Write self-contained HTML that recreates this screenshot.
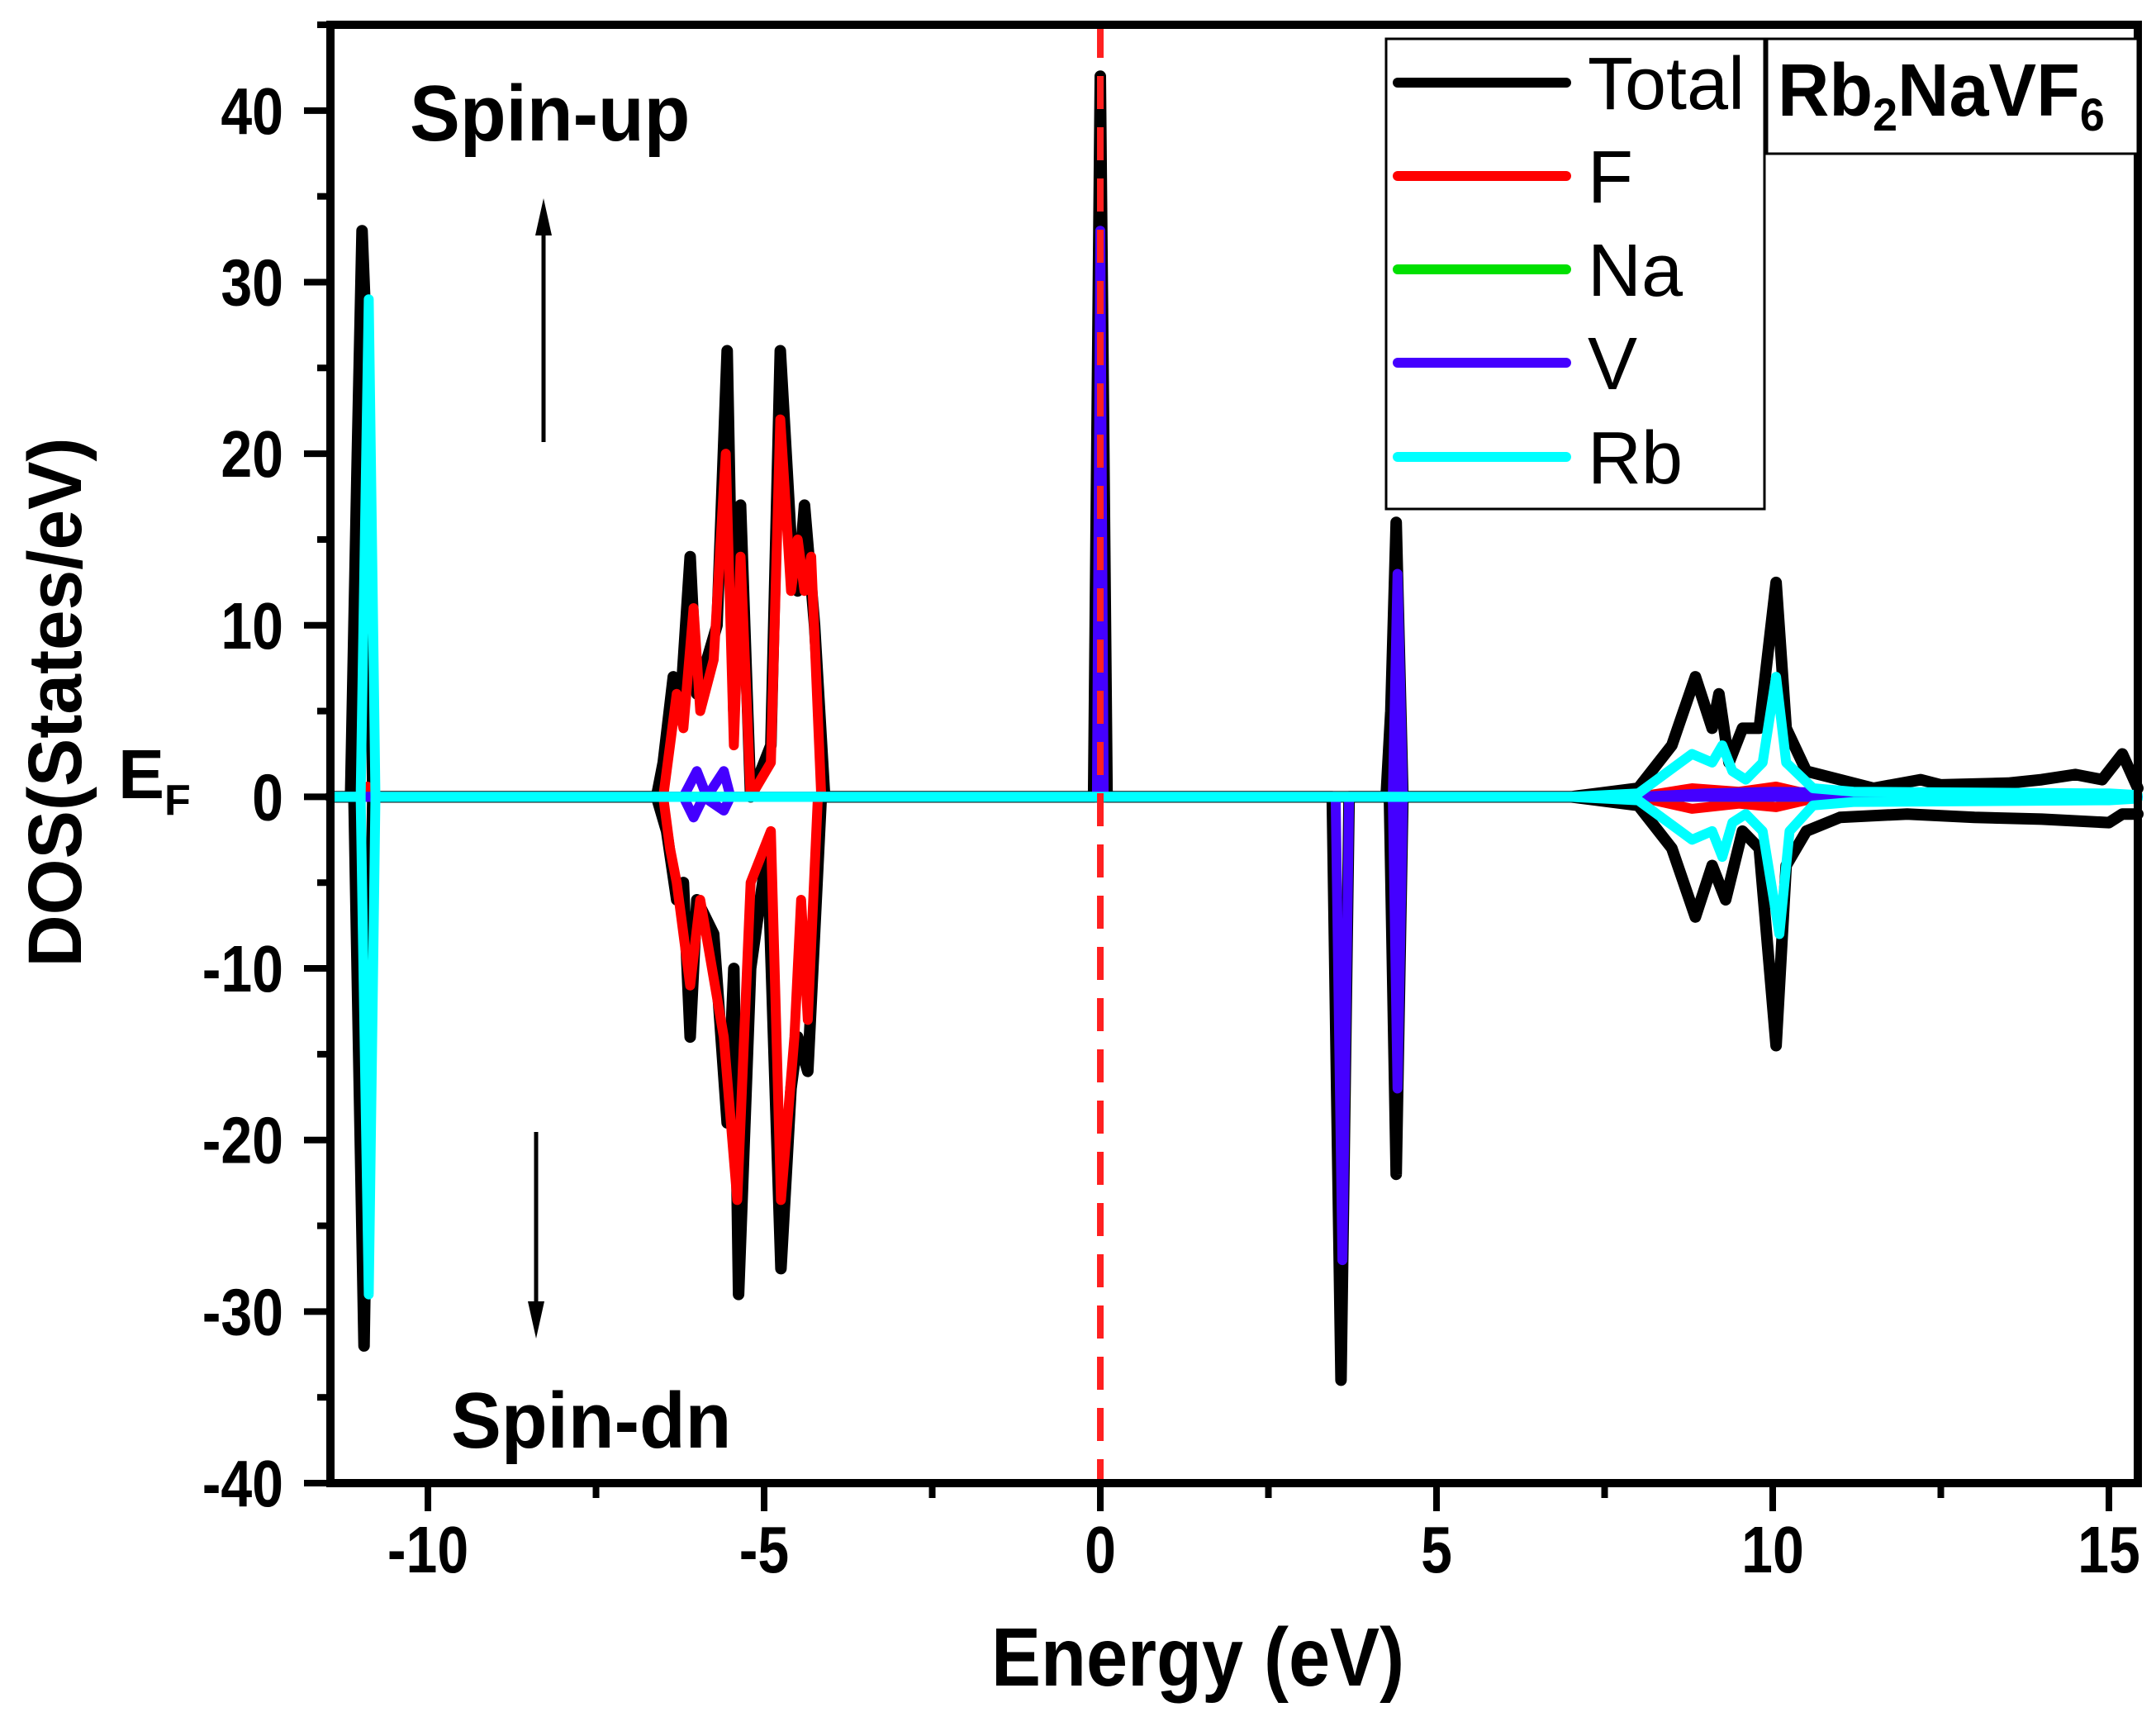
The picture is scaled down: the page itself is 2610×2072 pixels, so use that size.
<!DOCTYPE html>
<html><head><meta charset="utf-8"><style>
html,body{margin:0;padding:0;background:#fff;}
svg{display:block;}
text{font-family:"Liberation Sans",Arial,sans-serif;}
</style></head><body>
<svg id="chart" width="2610" height="2072" viewBox="0 0 2610 2072" xmlns="http://www.w3.org/2000/svg">
<g id="series"></g>
<g id="axes"></g>
</svg>
<script>
// ---- data ----
const xTicks = [-10, -5, 0, 5, 10, 15];
const yTicks = [40, 30, 20, 10, 0, -10, -20, -30, -40];
const totalUpE = [-11.45,-11.15,-11.05,-10.98,-10.9,-10.82,-6.6,-6.5,-6.35,-6.25,-6.1,-6.0,-5.85,-5.7,-5.55,-5.45,-5.35,-5.2,-4.9,-4.76,-4.6,-4.5,-4.4,-4.25,-4.1,-0.1,0.0,0.1,4.25,4.32,4.4,4.5,7,8,8.5,8.85,9.1,9.2,9.35,9.55,9.8,10.05,10.2,10.5,11,11.5,12.2,12.5,13.5,14,14.5,14.9,15.2,15.43];
const totalUpV = [0,0,20,33,25,0,0,2,7,5,14,6,8,10,26,5,17,0,3,26,15,12,17,10,0,0,42,0,0,5,16,0,0,0.5,3,7,4,6,2,4,4,12.5,4,1.5,1,0.5,1,0.7,0.8,1,1.3,1,2.5,0.5];
const totalDnE = [-11.45,-11.1,-10.95,-10.82,-6.6,-6.45,-6.3,-6.2,-6.1,-6.0,-5.75,-5.55,-5.45,-5.38,-5.2,-4.95,-4.75,-4.6,-4.5,-4.35,-4.15,3.45,3.58,3.7,4.3,4.4,4.5,7,8,8.5,8.85,9.1,9.3,9.55,9.8,10.05,10.2,10.5,11,12,13,14,15,15.2,15.43];
const totalDnV = [0,0,-32,0,0,-2,-6,-5,-14,-6,-8,-19,-10,-29,-10,-3,-27.5,-17,-14,-16,0,0,-34,0,0,-22,0,0,-0.5,-3,-7,-4,-6,-2,-3,-14.5,-4,-2,-1.2,-1,-1.2,-1.3,-1.5,-1,-1];
const fUpE = [-11.45,-11.0,-10.9,-10.8,-6.5,-6.4,-6.3,-6.2,-6.05,-5.95,-5.75,-5.57,-5.45,-5.35,-5.2,-4.9,-4.76,-4.6,-4.5,-4.4,-4.3,-4.15,8,8.8,9.5,10.05,10.6,15.43];
const fUpV = [0,0,0.6,0,0,3,6,4,11,5,8,20,3,14,0,2,22,12,15,12,14,0,0,0.5,0.3,0.6,0.1,0];
const fDnE = [-11.45,-6.5,-6.4,-6.3,-6.1,-5.95,-5.6,-5.4,-5.2,-4.9,-4.75,-4.55,-4.45,-4.35,-4.2,4.35,4.4,4.45,8,8.8,9.5,10.05,10.6,15.43];
const fDnV = [0,0,-3,-5,-11,-6,-14,-23.5,-5,-2,-23.5,-14,-6,-13,0,0,-2,0,0,-0.7,-0.4,-0.6,-0.1,0];
const naUpE = [-11.45,15.43];
const naUpV = [0,0];
const naDnE = [-11.45,15.43];
const naDnV = [0,0];
const vUpE = [-11.45,-6.2,-6.0,-5.85,-5.6,-5.5,-5.3,-0.05,0.0,0.05,4.35,4.42,4.5,8,9,10,15.43];
const vUpV = [0,0,1.5,0,1.5,0,0,0,33,0,0,13,0,0,0.2,0.3,0];
const vDnE = [-11.45,-6.2,-6.05,-5.9,-5.6,-5.5,3.5,3.6,3.7,4.35,4.42,4.5,15.43];
const vDnV = [0,0,-1.2,0,-0.8,0,0,-27,0,0,-17,0,0];
const rbUpE = [-11.45,-11.0,-10.88,-10.78,7,8,8.8,9.1,9.25,9.4,9.6,9.85,10.05,10.2,10.6,11.2,15,15.43];
const rbUpV = [0,0,29,0,0,0.2,2.5,2,3,1.5,1,2,7,2,0.5,0.3,0.2,0.1];
const rbDnE = [-11.45,-11.0,-10.88,-10.78,7,8,8.8,9.1,9.25,9.4,9.6,9.85,10.1,10.25,10.6,11.2,15,15.43];
const rbDnV = [0,0,-29,0,0,-0.2,-2.5,-2,-3.5,-1.5,-1,-2,-8,-2,-0.5,-0.3,-0.2,-0.1];

// ---- axes ----
const X0 = 400, X1 = 2588, Y0 = 30, Y1 = 1795;
const xMin = -11.45, xMax = 15.43, yMin = -40, yMax = 45;
function xs(e){ return X0 + (e - xMin) / (xMax - xMin) * (X1 - X0); }
function ys(v){ return Y1 - (v - yMin) / (yMax - yMin) * (Y1 - Y0); }
const NS = "http://www.w3.org/2000/svg";
function mk(tag, attrs, parent){
  const el = document.createElementNS(NS, tag);
  for (const k in attrs) el.setAttribute(k, attrs[k]);
  parent.appendChild(el); return el;
}
const gS = document.getElementById('series');
const gA = document.getElementById('axes');

function drawSeries(E, V, color, w, name){
  let d = '';
  for (let i = 0; i < E.length; i++) d += (i ? 'L' : 'M') + xs(E[i]).toFixed(1) + ',' + ys(V[i]).toFixed(1);
  const p = mk('path', {d: d, fill: 'none', stroke: color, 'stroke-width': w, 'stroke-linejoin': 'round', 'stroke-linecap': 'round'}, gS);
  
  
}
drawSeries(totalUpE, totalUpV, '#000', 14, 'total-spin-up-line');
drawSeries(totalDnE, totalDnV, '#000', 14, 'total-spin-down-line');
drawSeries(fUpE, fUpV, '#ff0000', 12, 'f-spin-up-line');
drawSeries(fDnE, fDnV, '#ff0000', 12, 'f-spin-down-line');
drawSeries(naUpE, naUpV, '#00e000', 12, 'na-spin-up-line');
drawSeries(naDnE, naDnV, '#00e000', 12, 'na-spin-down-line');
drawSeries(vUpE, vUpV, '#4400ff', 12, 'v-spin-up-line');
drawSeries(vDnE, vDnV, '#4400ff', 12, 'v-spin-down-line');
drawSeries(rbUpE, rbUpV, '#00ffff', 12, 'rb-spin-up-line');
drawSeries(rbDnE, rbDnV, '#00ffff', 12, 'rb-spin-down-line');

// fermi line
const ef = mk('line', {x1: xs(0), x2: xs(0), y1: Y0, y2: Y1, stroke: '#ff2020', 'stroke-width': 8, 'stroke-dasharray': '40,22'}, gS);



// frame
const fr = mk('rect', {x: X0, y: Y0, width: X1 - X0, height: Y1 - Y0, fill: 'none', stroke: '#000', 'stroke-width': 10}, gA);



// x ticks
for (let t = -10; t <= 15; t += 2.5) {
  const major = Number.isInteger(t / 5);
  const tk = mk('line', {x1: xs(t), x2: xs(t), y1: Y1, y2: Y1 + (major ? 34 : 18), stroke: '#000', 'stroke-width': 8}, gA);
  
  
}
const SX = 0.85;
xTicks.forEach(t => {
  const tx = mk('text', {x: xs(t) / SX, y: 1903, transform: 'scale(' + SX + ',1)', 'text-anchor': 'middle', 'font-size': 80, 'font-weight': 'bold'}, gA);
  tx.textContent = String(t);
  
  
});
// y ticks
for (let t = -40; t <= 45; t += 5) {
  const major = t % 10 === 0;
  const tk = mk('line', {x1: X0, x2: X0 - (major ? 32 : 16), y1: ys(t), y2: ys(t), stroke: '#000', 'stroke-width': 8}, gA);
  
  
}
yTicks.forEach(t => {
  const tx = mk('text', {x: 343 / SX, y: ys(t) + 28, transform: 'scale(' + SX + ',1)', 'text-anchor': 'end', 'font-size': 80, 'font-weight': 'bold'}, gA);
  tx.textContent = String(t);
  
  
});
</script>
<svg style="position:absolute;left:0;top:0" width="2610" height="2072" xmlns="http://www.w3.org/2000/svg">
  <text transform="translate(1450,2040) scale(0.9,1)" text-anchor="middle" font-size="100" font-weight="bold" font-family="Liberation Sans, sans-serif">Energy (eV)</text>
  <text transform="translate(98,850) rotate(-90) scale(0.95,1)" text-anchor="middle" font-size="92" font-weight="bold" font-family="Liberation Sans, sans-serif">DOS(States/eV)</text>
  <text x="143" y="966" font-size="84" font-weight="bold" font-family="Liberation Sans, sans-serif">E<tspan font-size="52" dy="20">F</tspan></text>
  <text transform="translate(496,170) scale(0.95,1)" font-size="96" font-weight="bold" font-family="Liberation Sans, sans-serif">Spin-up</text>
  <text transform="translate(546,1752) scale(0.95,1)" font-size="96" font-weight="bold" font-family="Liberation Sans, sans-serif">Spin-dn</text>
  <g>
    <line x1="658" y1="535" x2="658" y2="270" stroke="#000" stroke-width="5"/>
    <polygon points="658,240 648,285 668,285" fill="#000"/>
  </g>
  <g>
    <line x1="649" y1="1370" x2="649" y2="1590" stroke="#000" stroke-width="5"/>
    <polygon points="649,1620 639,1575 659,1575" fill="#000"/>
  </g>
  <g font-family="Liberation Sans, sans-serif" font-size="90">
    <rect x="1678" y="47" width="458" height="569" fill="#fff" stroke="#000" stroke-width="3"/>
    <g><line x1="1692" x2="1896" y1="100" y2="100" stroke="#000" stroke-width="12" stroke-linecap="round"/><text x="1922" y="132">Total</text></g>
    <g><line x1="1692" x2="1896" y1="213" y2="213" stroke="#ff0000" stroke-width="12" stroke-linecap="round"/><text x="1922" y="245">F</text></g>
    <g><line x1="1692" x2="1896" y1="326" y2="326" stroke="#00e000" stroke-width="12" stroke-linecap="round"/><text x="1922" y="358">Na</text></g>
    <g><line x1="1692" x2="1896" y1="439" y2="439" stroke="#4400ff" stroke-width="12" stroke-linecap="round"/><text x="1922" y="471">V</text></g>
    <g><line x1="1692" x2="1896" y1="553" y2="553" stroke="#00ffff" stroke-width="12" stroke-linecap="round"/><text x="1922" y="585">Rb</text></g>
  </g>
  <g>
    <rect x="2139" y="47" width="449" height="139" fill="#fff" stroke="#000" stroke-width="3"/>
    <text transform="translate(2152,140) scale(0.96,1)" font-size="90" font-weight="bold" font-family="Liberation Sans, sans-serif">Rb<tspan font-size="56" dy="18">2</tspan><tspan dy="-18">NaVF</tspan><tspan font-size="56" dy="18">6</tspan></text>
  </g>
</svg>
</body></html>
